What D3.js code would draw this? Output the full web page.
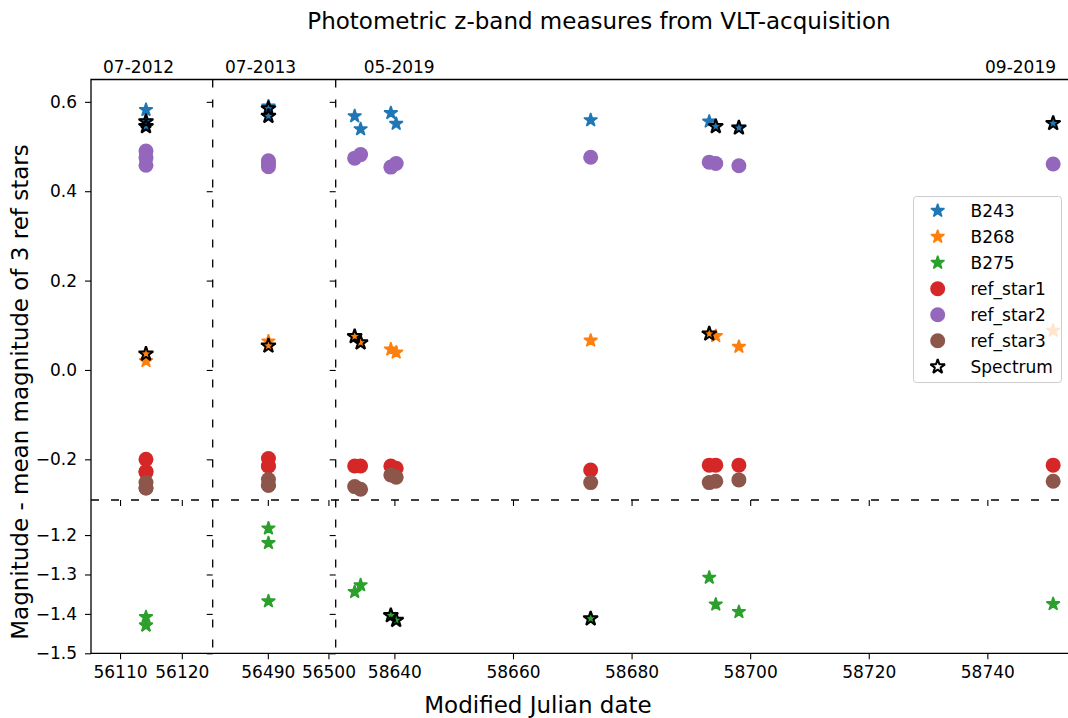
<!DOCTYPE html>
<html>
<head>
<meta charset="utf-8">
<script src="https://cdn.jsdelivr.net/npm/d3@7"></script>
<style>
  body { margin: 0; background: #fff; }
  text { font-family: "DejaVu Sans", sans-serif; fill: #000; }
</style>
</head>
<body>
<div id="chart"></div>
<script>
// observation dates (MJD), one entry per acquisition image
var epochMjd = [56114.2, 56114.2, 56114.2, 56490.1, 56490.1, 56490.1,
  58633.3, 58634.3, 58639.4, 58640.3, 58673.1, 58693.1, 58694.2, 58698.1, 58751.1];

// magnitude - mean magnitude of the 3 reference stars
var b243 = [0.582, 0.556, 0.545, 0.590, 0.585, 0.568,
  0.568, 0.539, 0.575, 0.551, 0.559, 0.556, 0.545, 0.542, 0.552];
var b268 = [0.020, 0.036, 0.036, 0.064, 0.054, 0.054,
  0.075, 0.061, 0.046, 0.039, 0.066, 0.081, 0.076, 0.052, 0.088];
var b275 = [-1.408, -1.429, -1.429, -1.183, -1.220, -1.368,
  -1.344, -1.327, -1.404, -1.416, -1.412, -1.308, -1.376, -1.395, -1.375];
var refStar1 = [-0.200, -0.228, -0.228, -0.198, -0.215, -0.215,
  -0.215, -0.215, -0.215, -0.220, -0.224, -0.213, -0.213, -0.213, -0.213];
var refStar2 = [0.490, 0.475, 0.458, 0.468, 0.462, 0.455,
  0.474, 0.482, 0.454, 0.462, 0.476, 0.465, 0.462, 0.457, 0.461];
var refStar3 = [-0.252, -0.264, -0.264, -0.245, -0.258, -0.258,
  -0.261, -0.267, -0.235, -0.240, -0.252, -0.252, -0.249, -0.246, -0.249];

// stars that got a spectrum
var specMjd = [56114.2, 56114.2, 56114.2, 56490.1, 56490.1, 56490.1,
  58633.3, 58634.3, 58639.4, 58640.3, 58673.1, 58693.1, 58694.2, 58698.1, 58751.1];
var specVal = [0.556, 0.545, 0.036, 0.585, 0.568, 0.054,
  0.075, 0.061, -1.404, -1.416, -1.412, 0.081, 0.545, 0.542, 0.552];

// broken axes: x pieces, y pieces, tick values
var xDomains = [[56105.3, 56125.0], [56480.9, 56501.2], [58630.1, 58759.0]];
var xTicks = [[56110, 56120], [56490, 56500], [58640, 58660, 58680, 58700, 58720, 58740]];
var yDomains = [[-0.291, 0.65], [-1.5, -1.111]];
var yTicks = [[-0.2, 0.0, 0.2, 0.4, 0.6], [-1.5, -1.4, -1.3, -1.2]];

// secondary labels on top
var topLabels = ["07-2012", "07-2013", "05-2019", "09-2019"];
var topLabelMjd = [56113.0, 56488.8, 58640.8, 58745.6];

var width = 1068, height = 718;
var colEdges = [91, 212.7, 335.7, 1100];
var rowEdges = [79.5, 500, 653.3];

var svg = d3.select("#chart")
  .append("svg")
    .attr("width", width)
    .attr("height", height);

var xs = xDomains.map(function(d, i) {
  return d3.scaleLinear().domain(d).range([colEdges[i], colEdges[i + 1]]);
});
var ys = yDomains.map(function(d, i) {
  return d3.scaleLinear().domain(d).range([rowEdges[i + 1], rowEdges[i]]);
});

function colOf(m) {
  return xDomains.findIndex(function(d) { return m >= d[0] && m <= d[1]; });
}
function rowOf(v) {
  return v >= yDomains[0][0] ? 0 : 1;
}

// ticks for every sub panel
xs.forEach(function(x, c) {
  ys.forEach(function(y, r) {
    var gx = svg.append("g")
      .attr("transform", "translate(0," + rowEdges[r + 1] + ")")
      .call(d3.axisBottom(x).tickValues(xTicks[c]).tickSize(6).tickPadding(7)
        .tickFormat(r == 1 ? d3.format("d") : ""));
    gx.select(".domain").remove();
    gx.selectAll("line").attr("stroke-width", 1.1);
    gx.selectAll("text").style("font-size", "17px").style("font-family", "DejaVu Sans");

    var gy = svg.append("g")
      .attr("transform", "translate(" + colEdges[c] + ",0)")
      .call(d3.axisLeft(y).tickValues(yTicks[r]).tickSize(6).tickPadding(8)
        .tickFormat(c == 0 ? d3.format(".1f") : ""));
    gy.select(".domain").remove();
    gy.selectAll("line").attr("stroke-width", 1.1);
    gy.selectAll("text").style("font-size", "17px").style("font-family", "DejaVu Sans");
  });
});

// frame: solid outside, dashed at the breaks
var frame = svg.append("g").attr("fill", "none").attr("stroke", "#000");
frame.append("path")
  .attr("d", "M" + colEdges[3] + "," + rowEdges[0] + "H" + colEdges[0] + "V" + rowEdges[2] + "H" + colEdges[3])
  .attr("stroke-width", 1.3);
frame.append("line")
  .attr("x1", colEdges[0]).attr("x2", colEdges[3])
  .attr("y1", rowEdges[1]).attr("y2", rowEdges[1])
  .attr("stroke-width", 1.3).attr("stroke-dasharray", "8,12");
[1, 2].forEach(function(i) {
  frame.append("line")
    .attr("x1", colEdges[i]).attr("x2", colEdges[i])
    .attr("y1", rowEdges[0]).attr("y2", rowEdges[2])
    .attr("stroke-width", 1.3).attr("stroke-dasharray", "8,12");
});

// markers
var starSym = d3.symbol().type(d3.symbolStar).size(56);
var specSym = d3.symbol().type(d3.symbolStar).size(66);
var series = [
  {name: "B243", values: b243, color: "#1f77b4", shape: "star"},
  {name: "B268", values: b268, color: "#ff7f0e", shape: "star"},
  {name: "B275", values: b275, color: "#2ca02c", shape: "star"},
  {name: "ref_star1", values: refStar1, color: "#d62728", shape: "circle"},
  {name: "ref_star2", values: refStar2, color: "#9467bd", shape: "circle"},
  {name: "ref_star3", values: refStar3, color: "#8c564b", shape: "circle"}
];

function place(m, v) {
  var c = colOf(m), r = rowOf(v);
  return [xs[c](m), ys[r](v)];
}

series.forEach(function(s) {
  var pts = epochMjd.map(function(m, i) { return place(m, s.values[i]); });
  var g = svg.append("g");
  if (s.shape == "star") {
    g.selectAll("path").data(pts).enter().append("path")
      .attr("d", starSym)
      .attr("transform", function(p) { return "translate(" + p[0] + "," + p[1] + ")"; })
      .attr("fill", s.color)
      .attr("stroke", s.color)
      .attr("stroke-width", 1.5)
      .attr("stroke-linejoin", "bevel");
  } else {
    g.selectAll("circle").data(pts).enter().append("circle")
      .attr("cx", function(p) { return p[0]; })
      .attr("cy", function(p) { return p[1]; })
      .attr("r", 7.5)
      .attr("fill", s.color);
  }
});

svg.append("g").selectAll("path")
  .data(specMjd.map(function(m, i) { return place(m, specVal[i]); }))
  .enter().append("path")
    .attr("d", specSym)
    .attr("transform", function(p) { return "translate(" + p[0] + "," + p[1] + ")"; })
    .attr("fill", "none")
    .attr("stroke", "#000")
    .attr("stroke-width", 2)
    .attr("stroke-linejoin", "bevel");

// legend
var lg = svg.append("g");
lg.append("rect")
  .attr("x", 913.5).attr("y", 196.5)
  .attr("width", 148).attr("height", 186)
  .attr("rx", 3)
  .attr("fill", "#fff").attr("fill-opacity", 0.8)
  .attr("stroke", "#ccc");
var legendItems = series.concat([{name: "Spectrum", color: "none", shape: "spec"}]);
legendItems.forEach(function(s, i) {
  var y = 210.7 + i * 26;
  if (s.shape == "circle") {
    lg.append("circle").attr("cx", 937.7).attr("cy", y).attr("r", 7.5).attr("fill", s.color);
  } else if (s.shape == "star") {
    lg.append("path").attr("d", starSym).attr("transform", "translate(937.7," + y + ")")
      .attr("fill", s.color).attr("stroke", s.color).attr("stroke-width", 1.5)
      .attr("stroke-linejoin", "bevel");
  } else {
    lg.append("path").attr("d", specSym).attr("transform", "translate(937.7," + y + ")")
      .attr("fill", "none").attr("stroke", "#000").attr("stroke-width", 2)
      .attr("stroke-linejoin", "bevel");
  }
  lg.append("text")
    .attr("x", 970.5).attr("y", y).attr("dy", "0.36em")
    .style("font-size", "17px")
    .text(s.name);
});

// top labels
svg.append("g").selectAll("text")
  .data(topLabels)
  .enter().append("text")
    .attr("x", function(d, i) { return xs[colOf(topLabelMjd[i])](topLabelMjd[i]); })
    .attr("y", 73)
    .attr("text-anchor", "middle")
    .style("font-size", "17px")
    .text(function(d) { return d; });

// title and axis labels
svg.append("text")
  .attr("x", 599).attr("y", 29)
  .attr("text-anchor", "middle")
  .style("font-size", "23px")
  .text("Photometric z-band measures from VLT-acquisition");

svg.append("text")
  .attr("x", 538).attr("y", 713)
  .attr("text-anchor", "middle")
  .style("font-size", "23px")
  .text("Modified Julian date");

svg.append("text")
  .attr("transform", "translate(28,392)rotate(-90)")
  .attr("text-anchor", "middle")
  .style("font-size", "23px")
  .text("Magnitude - mean magnitude of 3 ref stars");
</script>
</body>
</html>
